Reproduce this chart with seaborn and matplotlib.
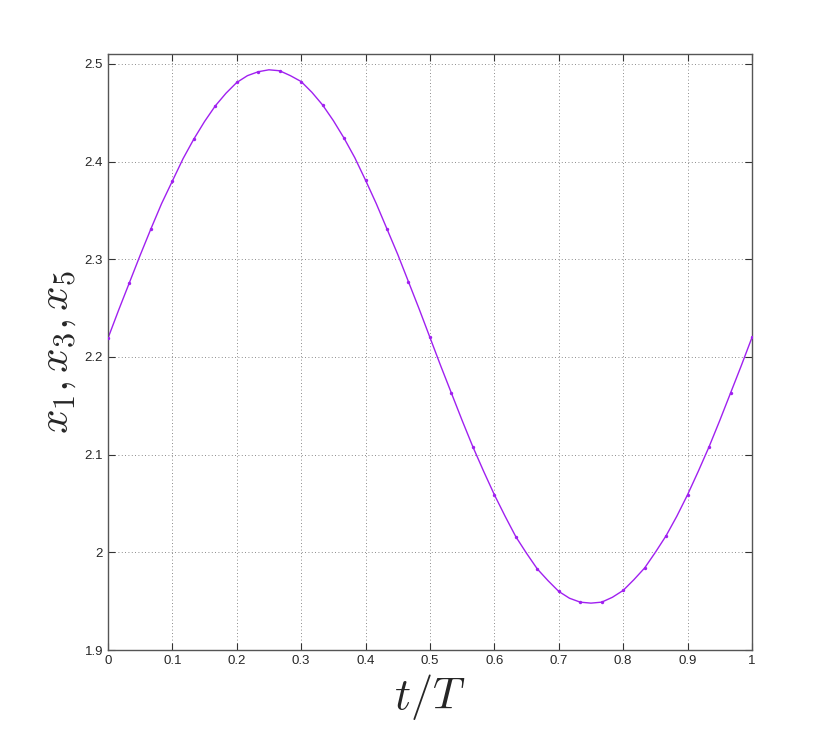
import numpy as np
import pandas as pd
import matplotlib
matplotlib.use("Agg")
import matplotlib.pyplot as plt
import seaborn as sns

# sample points (markers), t/T = k/30
t_over_T = [i / 30 for i in range(31)]
x_vals = [2.219, 2.276, 2.331, 2.380, 2.423, 2.457, 2.481, 2.492, 2.493, 2.482,
          2.458, 2.424, 2.381, 2.331, 2.277, 2.220, 2.163, 2.108, 2.059, 2.016,
          1.983, 1.960, 1.949, 1.949, 1.961, 1.984, 2.017, 2.059, 2.108, 2.163,
          2.220]
# curve values read between the markers, t/T = (2k+1)/60
t_mid = [(2 * i + 1) / 60 for i in range(30)]
x_mid = [2.248, 2.304, 2.357, 2.403, 2.441, 2.470, 2.488, 2.494, 2.488, 2.471,
         2.442, 2.404, 2.357, 2.305, 2.249, 2.191, 2.135, 2.083, 2.037, 1.999,
         1.971, 1.953, 1.948, 1.954, 1.972, 2.000, 2.037, 2.083, 2.135, 2.191]

x_ticks = [0, 0.1, 0.2, 0.3, 0.4, 0.5, 0.6, 0.7, 0.8, 0.9, 1]
x_ticklabels = ["0", "0.1", "0.2", "0.3", "0.4", "0.5", "0.6", "0.7", "0.8", "0.9", "1"]
y_ticks = [1.9, 2.0, 2.1, 2.2, 2.3, 2.4, 2.5]
y_ticklabels = ["1.9", "2", "2.1", "2.2", "2.3", "2.4", "2.5"]

sns.set_style("ticks")
plt.rcParams["font.family"] = ["Liberation Sans", "DejaVu Sans"]
plt.rcParams["mathtext.fontset"] = "cm"

markers = pd.DataFrame({"t": t_over_T, "x": x_vals})
curve = pd.concat([markers, pd.DataFrame({"t": t_mid, "x": x_mid})]).sort_values("t")

fig = plt.figure(figsize=(8.3, 7.32), dpi=100)
ax = fig.add_axes([0.130, 0.112, 0.776, 0.814])

sns.lineplot(data=curve, x="t", y="x", ax=ax, color="#a020f0", linewidth=1.0,
             sort=False)
sns.scatterplot(data=markers, x="t", y="x", ax=ax, color="#a020f0", s=6,
                linewidth=0, zorder=3)

ax.set_xlim(0, 1)
ax.set_ylim(1.9, 2.51)
ax.set_xticks(x_ticks)
ax.set_xticklabels(x_ticklabels)
ax.set_yticks(y_ticks)
ax.set_yticklabels(y_ticklabels)
ax.tick_params(direction="in", top=True, right=True, length=5, width=0.8,
               labelsize=9.5, color="#333333")
ax.grid(True, linestyle=(0, (1, 3)), color="#666666", linewidth=0.6)
for sp in ax.spines.values():
    sp.set_color("#555555")
    sp.set_linewidth(1.0)

ax.set_xlabel("$t/T$", fontsize=32, labelpad=4)
ax.set_ylabel("$x_1, x_3, x_5$", fontsize=31, labelpad=5)

fig.savefig("out.png", dpi=100)
